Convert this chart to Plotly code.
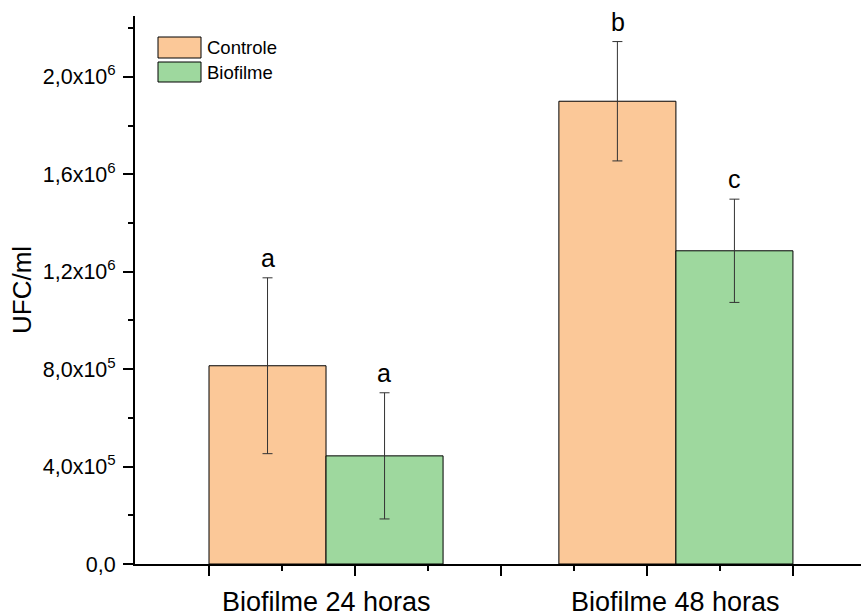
import plotly.graph_objects as go

# Data
categories = ["Biofilme 24 horas", "Biofilme 48 horas"]
series_names = ["Controle", "Biofilme"]
controle_mean = [8.14e5, 1.90e6]
controle_sd = [3.61e5, 2.45e5]
biofilme_mean = [4.44e5, 1.286e6]
biofilme_sd = [2.59e5, 2.12e5]
controle_letters = ["a", "b"]
biofilme_letters = ["a", "c"]

y_tick_vals = [0, 4e5, 8e5, 1.2e6, 1.6e6, 2.0e6]
y_tick_labels = ["0,0", "4,0x10<sup>5</sup>", "8,0x10<sup>5</sup>",
                 "1,2x10<sup>6</sup>", "1,6x10<sup>6</sup>", "2,0x10<sup>6</sup>"]

x_major_ticks = [0.6667, 1.0833, 1.5, 1.9167, 2.3333]
x_pos = [1, 2]

orange = "#FBC898"
green = "#9ED89E"
FONT = "Liberation Sans, Arial, sans-serif"

fig = go.Figure()
for name, means, sds, color in [
    (series_names[0], controle_mean, controle_sd, orange),
    (series_names[1], biofilme_mean, biofilme_sd, green),
]:
    fig.add_trace(go.Bar(
        x=x_pos, y=means, name=name,
        marker=dict(color=color, line=dict(color="#000000", width=1)),
        error_y=dict(type="data", array=sds, visible=True,
                     color="#333333", thickness=1, width=5),
        showlegend=False,
    ))

# significance letters above the error bars
bar_offset = 0.1667
annotations = []
for i, x in enumerate(x_pos):
    for off, means, sds, letters in [
        (-bar_offset, controle_mean, controle_sd, controle_letters),
        (bar_offset, biofilme_mean, biofilme_sd, biofilme_letters),
    ]:
        annotations.append(dict(
            x=x + off, y=means[i] + sds[i], xref="x", yref="y",
            text=letters[i], showarrow=False, yanchor="bottom",
            yshift=4, font=dict(family=FONT, size=25, color="#000000"),
        ))

# category labels under the axis
for x, cat in zip(x_pos, categories):
    annotations.append(dict(
        x=x, y=0, xref="x", yref="paper", text=cat, showarrow=False,
        yanchor="middle", yshift=-38,
        font=dict(family=FONT, size=27, color="#000000"),
    ))

# y-axis title
annotations.append(dict(
    x=0, y=0.5, xref="paper", yref="paper", text="UFC/ml",
    showarrow=False, textangle=-90, xshift=-130,
    font=dict(family=FONT, size=26, color="#000000"),
))

# legend drawn as boxes with labels
L, B, T = 135, 564, 16
W, H = 861 - L, B - T
def px(xp):
    return (xp - L) / W
def py(yp):
    return (B - yp) / H

shapes = []
legend_rows = [(series_names[0], orange, 37, 58), (series_names[1], green, 62, 82)]
for name, color, y0, y1 in legend_rows:
    shapes.append(dict(type="rect", xref="paper", yref="paper",
                       x0=px(158), x1=px(201), y0=py(y1), y1=py(y0),
                       fillcolor=color, line=dict(color="#000000", width=1)))
    annotations.append(dict(
        x=px(205), y=py((y0 + y1) / 2), xref="paper", yref="paper",
        text=name, showarrow=False, xanchor="left", yanchor="middle",
        font=dict(family=FONT, size=18.5, color="#000000"),
    ))

fig.update_layout(
    width=861, height=615,
    margin=dict(l=L, r=0, t=T, b=615 - B),
    paper_bgcolor="white", plot_bgcolor="white",
    barmode="group", bargap=0.331, bargroupgap=0,
    font=dict(family=FONT, color="#000000"),
    annotations=annotations, shapes=shapes,
    xaxis=dict(
        range=[0.454, 2.529], tickmode="array", tickvals=x_major_ticks,
        showticklabels=False, ticks="outside", ticklen=10, tickwidth=2,
        tickcolor="#000000", showline=True, linecolor="#000000",
        linewidth=2, showgrid=False, zeroline=False,
        minor=dict(tickmode="array",
                   tickvals=[0.875, 1.2917, 1.7083, 2.125],
                   ticks="outside", ticklen=5, tickwidth=2,
                   tickcolor="#000000", showgrid=False),
    ),
    yaxis=dict(
        range=[0, 2.25e6], tickmode="array", tickvals=y_tick_vals,
        ticktext=y_tick_labels, ticks="outside", ticklen=10, tickwidth=2,
        tickcolor="#000000", showline=True, linecolor="#000000",
        linewidth=2, showgrid=False, zeroline=False,
        tickfont=dict(family=FONT, size=21.5, color="#000000"),
        ticklabelstandoff=3,
        minor=dict(dtick=2e5, ticks="outside", ticklen=5, tickwidth=2,
                   tickcolor="#000000", showgrid=False),
    ),
)

fig.write_html("out.html")
